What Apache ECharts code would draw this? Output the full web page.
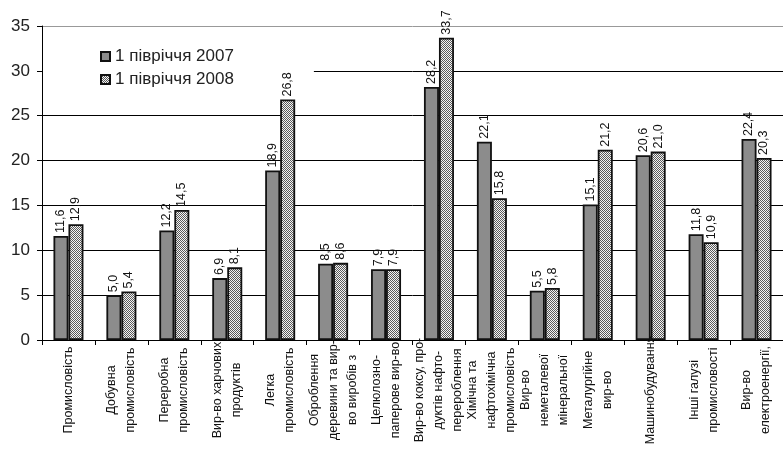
<!DOCTYPE html>
<html>
<head>
<meta charset="utf-8">
<script src="https://cdn.jsdelivr.net/npm/echarts@6/dist/echarts.min.js"></script>
<style>
  html, body { margin: 0; padding: 0; background: #fff; }
  #chart { width: 783px; height: 460px; }
</style>
</head>
<body>
<div id="chart"></div>
<script>
// Галузі промисловості (підписи осі X)
const categories = [
  'Промисловість',
  'Добувна\nпромисловість',
  'Переробна\nпромисловість',
  'Вир-во харчових\nпродуктів',
  'Легка\nпромисловість',
  'Оброблення\nдеревини та вир-\nво виробів з',
  'Целюлозно-\nпаперове вир-во',
  'Вир-во коксу, про-\nдуктів нафто-\nперероблення',
  'Хімічна та\nнафтохімічна\nпромисловість',
  'Вир-во\nнеметалевої\nмінеральної',
  'Металургійне\nвир-во',
  'Машинобудування',
  'Інші галузі\nпромисловості',
  'Вир-во\nелектроенергії,'
];

const seriesNames = ['1 півріччя 2007', '1 півріччя 2008'];

const values2007 = [11.6, 5.0, 12.2, 6.9, 18.9, 8.5, 7.9, 28.2, 22.1, 5.5, 15.1, 20.6, 11.8, 22.4];
const values2008 = [12.9, 5.4, 14.5, 8.1, 26.8, 8.6, 7.9, 33.7, 15.8, 5.8, 21.2, 21.0, 10.9, 20.3];

const yTicks = { min: 0, max: 35, interval: 5 };

const FONT = "'Liberation Sans', Arial, sans-serif";

// fine dotted fill for the second series
function makePattern() {
  const c = document.createElement('canvas');
  c.width = 2; c.height = 2;
  const g = c.getContext('2d');
  g.fillStyle = '#f4f4f4';
  g.fillRect(0, 0, 2, 2);
  g.fillStyle = '#5a5a5a';
  g.fillRect(0, 0, 1, 1);
  g.fillRect(1, 1, 1, 1);
  return c;
}

const valueLabel = {
  show: true,
  position: 'top',
  rotate: 90,
  align: 'left',
  verticalAlign: 'middle',
  distance: 3,
  fontFamily: FONT,
  fontSize: 12.5,
  color: '#111',
  formatter: p => p.value.toFixed(1).replace('.', ',')
};

const chart = echarts.init(document.getElementById('chart'), null, { renderer: 'canvas' });

chart.setOption({
  backgroundColor: '#ffffff',
  animation: false,
  grid: { left: 42, right: -8, top: 26, bottom: 120, containLabel: false },
  legend: {
    orient: 'vertical',
    left: 43,
    top: 40,
    z: 1,
    backgroundColor: '#ffffff',
    padding: [8, 80, 8, 57],
    itemWidth: 9,
    itemHeight: 9,
    itemGap: 6,
    icon: 'rect',
    textStyle: { fontFamily: FONT, fontSize: 17, color: '#222' },
    data: seriesNames
  },
  xAxis: {
    type: 'category',
    data: categories,
    boundaryGap: true,
    axisLine: { lineStyle: { color: '#000', width: 1 } },
    axisTick: { show: true, interval: 0, length: 5, lineStyle: { color: '#000' } },
    axisLabel: {
      interval: 0,
      rotate: 90,
      align: 'center',
      verticalAlign: 'middle',
      margin: 50,
      fontFamily: FONT,
      fontSize: 12.5,
      lineHeight: 19,
      color: '#111',
      hideOverlap: false
    }
  },
  yAxis: {
    type: 'value',
    min: yTicks.min,
    max: yTicks.max,
    interval: yTicks.interval,
    axisLine: { show: true, lineStyle: { color: '#000', width: 1 } },
    axisTick: { show: true, length: 5, lineStyle: { color: '#000' } },
    axisLabel: { fontFamily: FONT, fontSize: 17, color: '#222', margin: 12 },
    splitLine: {
      show: true,
      lineStyle: {
        width: 1,
        color: ['#000', '#000', '#000', '#000', '#000', '#000', '#000', '#999']
      }
    }
  },
  series: [
    {
      name: seriesNames[0],
      type: 'bar',
      z: 2,
      barWidth: 15,
      barGap: '0%',
      data: values2007,
      itemStyle: { color: '#8c8c8c', borderColor: '#111', borderWidth: 1.8 },
      label: valueLabel
    },
    {
      name: seriesNames[1],
      type: 'bar',
      z: 2,
      barWidth: 15,
      barGap: '0%',
      data: values2008,
      itemStyle: {
        color: { image: makePattern(), repeat: 'repeat' },
        borderColor: '#111',
        borderWidth: 1.8
      },
      label: valueLabel
    }
  ]
});
</script>
</body>
</html>
